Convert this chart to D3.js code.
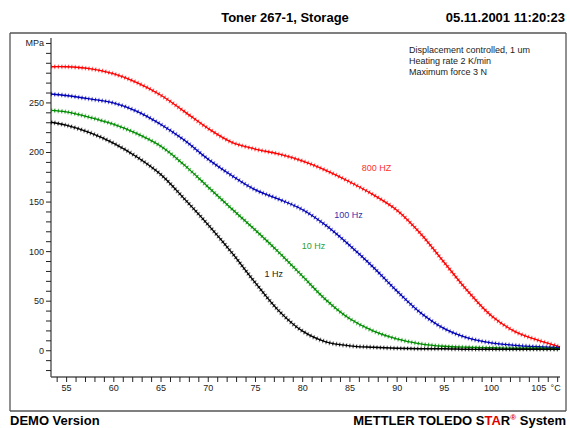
<!DOCTYPE html>
<html>
<head>
<meta charset="utf-8">
<script src="https://cdn.jsdelivr.net/npm/d3@7"></script>
<style>
  html, body { margin: 0; padding: 0; background: #fff; }
  svg { display: block; font-family: "Liberation Sans", Arial, sans-serif; }
</style>
</head>
<body>
<svg id="chart" width="570" height="428"></svg>
<script>
// ---- data ----
const temperature = [53.4, 55, 57.5, 60, 62.5, 65, 67.5, 70, 72.5, 75, 77.5, 80, 82.5, 85, 87.5, 90, 92.5, 95, 97.5, 100, 102.5, 105, 107.3];
const hz800 = [286, 286, 284, 279, 270, 257.5, 241, 224, 210, 203, 198, 191, 181.5, 170, 157, 141.5, 118, 89, 60, 35, 19, 10, 3.5];
const hz100 = [258.5, 257, 253.5, 249.5, 241, 228, 212, 193, 176.5, 162, 152.5, 142, 126, 106, 84, 60, 38, 22, 12.5, 7.5, 5, 3.5, 2.5];
const hz10  = [242, 240.5, 235, 228, 218.5, 206, 187, 165, 143, 121.5, 99, 75, 51, 32, 19.5, 11.5, 6.5, 4, 3, 2.5, 2, 2, 1.5];
const hz1   = [230, 227, 219.5, 209, 195, 177.5, 153, 127, 99, 68.5, 40, 19.5, 8.5, 4.5, 3, 2, 1.5, 1.5, 1, 1, 1, 1, 1];
const seriesNames = ["800 HZ", "100 Hz", "10 Hz", "1 Hz"];
const seriesColors = ["#ff0000", "#0000b4", "#008c00", "#000000"];
const labelColors = ["#ff3030", "#3030b0", "#30a030", "#222222"];
const labelAt = [[86.3, 180.8], [83.4, 133.4], [79.95, 101.8], [76.0, 74.2]]; // [°C, MPa] label anchors
const yMajor = [0, 50, 100, 150, 200, 250];
const xMajor = [55, 60, 65, 70, 75, 80, 85, 90, 95, 100, 105];
const notes = ["Displacement controlled, 1 um", "Heating rate 2 K/min", "Maximum force 3 N"];

const series = [hz800, hz100, hz10, hz1];

const svg = d3.select("#chart");
const x = d3.scaleLinear().domain([53.4, 107.3]).range([51, 560]);
const y = d3.scaleLinear().domain([-27, 315]).range([377, 38]);

// frame
const frame = "#555";
svg.append("line").attr("x1", 10).attr("x2", 10).attr("y1", 33).attr("y2", 411).attr("stroke", frame).attr("stroke-width", 1.3);
svg.append("line").attr("x1", 566).attr("x2", 566).attr("y1", 33).attr("y2", 411).attr("stroke", frame).attr("stroke-width", 1.3);
svg.append("line").attr("x1", 10).attr("x2", 566).attr("y1", 33).attr("y2", 33).attr("stroke", frame).attr("stroke-width", 1.3);
svg.append("line").attr("x1", 10).attr("x2", 566).attr("y1", 411).attr("y2", 411).attr("stroke", frame).attr("stroke-width", 1.3);

// title
svg.append("text").attr("x", 285).attr("y", 22).attr("text-anchor", "middle")
  .attr("font-weight", "bold").attr("font-size", 13).text("Toner 267-1, Storage");
svg.append("text").attr("x", 565).attr("y", 22).attr("text-anchor", "end")
  .attr("font-weight", "bold").attr("font-size", 13).text("05.11.2001 11:20:23");

// y axis
const yTicks = d3.range(-20, 311, 10);
const yAxis = d3.axisLeft(y).tickValues(yTicks).tickSize(5)
  .tickFormat(d => yMajor.includes(d) ? d : (d === 310 ? "MPa" : ""));
const gy = svg.append("g").attr("transform", "translate(51,0)").call(yAxis);
gy.select(".domain").attr("stroke", "#555").attr("stroke-width", 1.4).attr("d", `M0,${y(315)}V${y(-27)}`);
gy.selectAll(".tick line").attr("stroke", "#222");
gy.selectAll(".tick text").attr("font-size", 9).attr("fill", "#222").attr("x", -7).attr("font-family", "Liberation Sans, Arial, sans-serif");

// x axis
const xTicks = d3.range(54, 108, 1);
const xAxis = d3.axisBottom(x).tickValues(xTicks).tickSize(5)
  .tickFormat(d => xMajor.includes(d) ? d : (d === 107 ? "°C" : ""));
const gx = svg.append("g").attr("transform", "translate(0,377)").call(xAxis);
gx.select(".domain").attr("stroke", "#555").attr("stroke-width", 1.4).attr("d", `M${x(53.4)},0H${x(107.3)}`);
gx.selectAll(".tick line").attr("stroke", "#222");
gx.selectAll(".tick text").attr("font-size", 9).attr("fill", "#222").attr("y", 8).attr("font-family", "Liberation Sans, Arial, sans-serif");
gx.selectAll(".tick text").filter(d => d === 107).attr("dx", -2);

// curves
const line = d3.line().x((d, i) => x(temperature[i])).y(d => y(d)).curve(d3.curveCatmullRom.alpha(0.5));
series.forEach((vals, k) => {
  const g = svg.append("g");
  g.append("path").attr("d", line(vals)).attr("fill", "none")
    .attr("stroke", seriesColors[k]).attr("stroke-opacity", 0.3)
    .attr("stroke-width", 5).attr("stroke-dasharray", "1.3 2.1");
  g.append("path").attr("d", line(vals)).attr("fill", "none")
    .attr("stroke", seriesColors[k]).attr("stroke-opacity", 0.85)
    .attr("stroke-width", 3).attr("stroke-dasharray", "1 2.4");
  g.append("path").attr("d", line(vals)).attr("fill", "none")
    .attr("stroke", seriesColors[k]).attr("stroke-width", 1.3);
  svg.append("text").attr("x", x(labelAt[k][0])).attr("y", y(labelAt[k][1]))
    .attr("font-size", 9).attr("fill", labelColors[k]).text(seriesNames[k]);
});

// notes
notes.forEach((t, i) => {
  svg.append("text").attr("x", 409).attr("y", 53 + i * 11).attr("font-size", 9).attr("fill", "#222").text(t);
});

// footer
svg.append("text").attr("x", 10).attr("y", 425).attr("font-weight", "bold").attr("font-size", 13).text("DEMO Version");
const foot = svg.append("text").attr("x", 566).attr("y", 425).attr("text-anchor", "end")
  .attr("font-weight", "bold").attr("font-size", 13);
foot.append("tspan").text("METTLER TOLEDO S");
foot.append("tspan").attr("fill", "#e00000").text("TA");
foot.append("tspan").text("R");
foot.append("tspan").attr("fill", "#e00000").attr("font-size", 8).attr("dy", -5).text("®");
foot.append("tspan").attr("dy", 5).text(" System");
</script>
</body>
</html>
